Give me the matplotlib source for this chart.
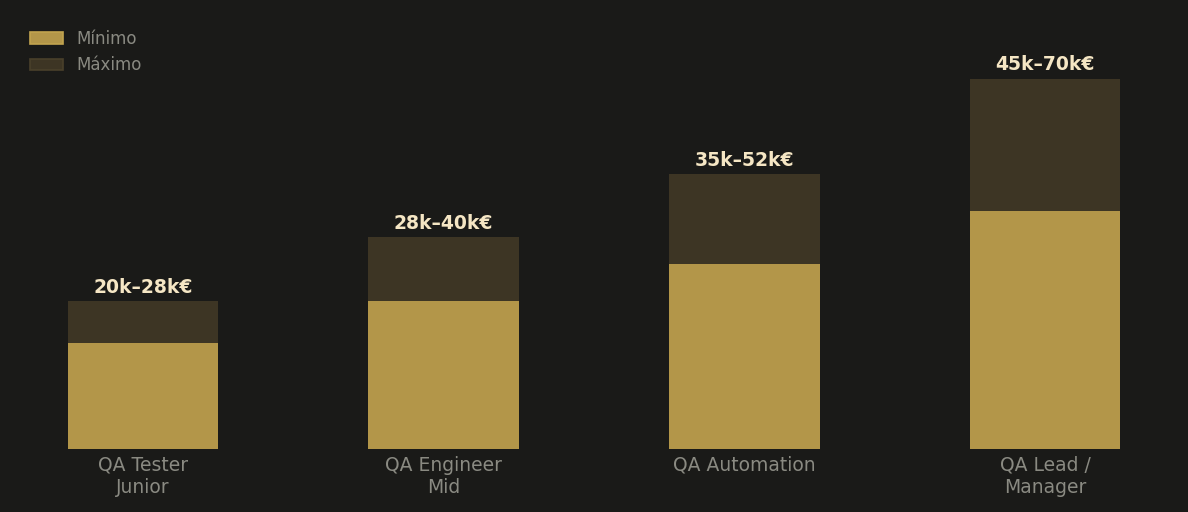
import matplotlib
matplotlib.use("Agg")
from matplotlib import pyplot as plt
import numpy as np

# Salary ranges (k€)
roles = ["QA Tester\nJunior", "QA Engineer\nMid", "QA Automation", "QA Lead /\nManager"]
salary_min = [20, 28, 35, 45]
salary_max = [28, 40, 52, 70]

BG = "#1a1a18"
GOLD = "#b39649"
DARK = "#3d3524"
TEXT = "#8a8a82"
LABEL = "#f5e6c4"

fig = plt.figure(figsize=(11.88, 5.12), dpi=100, facecolor=BG)
ax = fig.add_axes([15 / 1188, 1 - 449 / 512, (1173 - 15) / 1188, (449 - 15) / 512])
ax.set_facecolor(BG)

x = np.arange(len(roles))
ax.bar(x, salary_max, width=0.5, color=DARK, label="Máximo", linewidth=0)
ax.bar(x, salary_min, width=0.5, color=GOLD, label="Mínimo", linewidth=0)

for xi, lo, hi in zip(x, salary_min, salary_max):
    ax.annotate("{}k–{}k€".format(lo, hi), (xi, hi), xytext=(0, 3), textcoords="offset points",
                ha="center", va="bottom", fontsize=13.5, fontweight="bold", color=LABEL)

ax.set_xlim(-0.425, 3.425)
ax.set_ylim(0, 82)
ax.set_xticks(x)
ax.set_xticklabels(roles, fontsize=13.5, color=TEXT)
ax.tick_params(axis="x", length=0, pad=5)
ax.set_yticks([])
for s in ax.spines.values():
    s.set_visible(False)

handles, labels = ax.get_legend_handles_labels()
leg = ax.legend(handles[::-1], labels[::-1], loc="upper left", frameon=False, fontsize=12)
for t in leg.get_texts():
    t.set_color(TEXT)
for h, ec in zip(leg.legend_handles, ["#c2a44f", "#4a402b"]):
    h.set_edgecolor(ec)
    h.set_linewidth(1.2)

plt.savefig("out.png", facecolor=BG)
